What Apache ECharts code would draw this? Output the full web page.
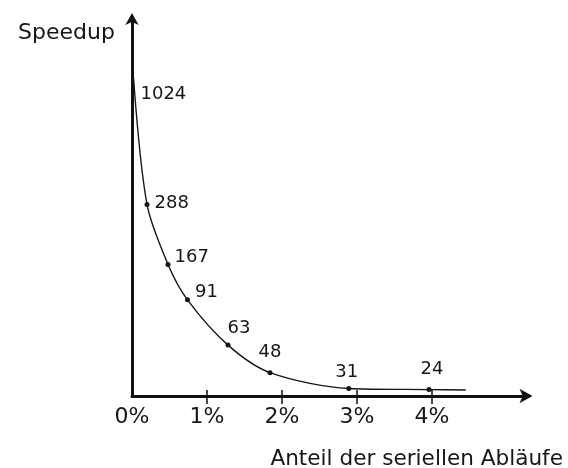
<!DOCTYPE html>
<html>
<head>
<meta charset="utf-8">
<script src="https://cdn.jsdelivr.net/npm/echarts@6/dist/echarts.min.js"></script>
<style>
html,body{margin:0;padding:0;background:#fff;}
#chart{width:568px;height:468px;}
</style>
</head>
<body>
<div id="chart"></div>
<script>
// Tick labels of the horizontal axis (share of serial work, in %)
const xTickValues = [0, 1, 2, 3, 4];
const xTickLabels = ['0%', '1%', '2%', '3%', '4%'];
// Points on the curve: serial share (%) and plotted height (schematic, % of axis height)
const serialShare = [0.02, 0.20, 0.48, 0.74, 1.28, 1.84, 2.89, 3.96, 4.45];
const plotLevel   = [84.4, 50.8, 34.9, 25.5, 13.5, 6.2, 2.0, 1.7, 1.6];
// Speedup labels written next to the points ('' = curve end without a label)
const speedupLabels = ['1024', '288', '167', '91', '63', '48', '31', '24', ''];

// marker and label placement (style only)
const markerShown = [false, true, true, true, true, true, true, true, false];
const labelPos = ['right', 'right', 'right', 'right', 'top', 'top', 'top', 'top', 'top'];
const labelOffset = [[2, 17], [0, -1], [-1, -7], [0, -8], [11, 0], [0, -4], [-2, 0], [3, -4], [0, 0]];

const FONT = 'DejaVu Sans';
const INK = '#161616';

const seriesData = serialShare.map((x, i) => ({
  value: [x, plotLevel[i]],
  symbolSize: markerShown[i] ? 5 : 0,
  label: {
    show: speedupLabels[i] !== '',
    formatter: speedupLabels[i],
    position: labelPos[i],
    offset: labelOffset[i],
    distance: 5
  }
}));

const chart = echarts.init(document.getElementById('chart'), null, {renderer: 'canvas'});
chart.setOption({
  backgroundColor: '#fff',
  animation: false,
  title: [
    {text: 'Speedup', left: 13, top: 17,
     textStyle: {fontFamily: FONT, fontSize: 22, fontWeight: 'normal', color: INK}},
    {text: 'Anteil der seriellen Abläufe', right: 0, top: 443,
     textStyle: {fontFamily: FONT, fontSize: 21.6, fontWeight: 'normal', color: INK}}
  ],
  grid: {left: 132, right: 41.5, top: 19, bottom: 72, containLabel: false},
  xAxis: [
    {
      type: 'value', min: 0, max: 5.26, interval: 1,
      axisLine: {show: true, lineStyle: {color: '#111', width: 3},
                 symbol: ['none', 'arrow'], symbolSize: [11, 13], symbolOffset: [0, 6]},
      axisTick: {show: true, length: 8, lineStyle: {color: '#111', width: 1.5},
                 customValues: [1, 2, 3, 4]},
      axisLabel: {show: true, margin: 10, fontFamily: FONT, fontSize: 22, color: INK,
                  customValues: xTickValues,
                  formatter: v => xTickLabels[xTickValues.indexOf(Math.round(v))] || ''},
      splitLine: {show: false}
    },
    {
      type: 'value', min: 0, max: 5.26, interval: 1, position: 'bottom',
      axisLine: {show: false},
      axisTick: {show: true, inside: true, length: 6, lineStyle: {color: '#111', width: 1.5},
                 customValues: [1, 2, 3, 4]},
      axisLabel: {show: false},
      splitLine: {show: false}
    }
  ],
  yAxis: {
    type: 'value', min: 0, max: 100,
    axisLine: {show: true, lineStyle: {color: '#111', width: 3},
               symbol: ['none', 'arrow'], symbolSize: [10, 12], symbolOffset: [0, 6]},
    axisTick: {show: false},
    axisLabel: {show: false},
    splitLine: {show: false}
  },
  series: [{
    type: 'line',
    xAxisIndex: 0,
    data: seriesData,
    smooth: 0.3,
    symbol: 'circle',
    itemStyle: {color: INK},
    lineStyle: {color: INK, width: 1.4},
    label: {fontFamily: FONT, fontSize: 18, color: INK},
    z: 5
  }]
});
</script>
</body>
</html>
